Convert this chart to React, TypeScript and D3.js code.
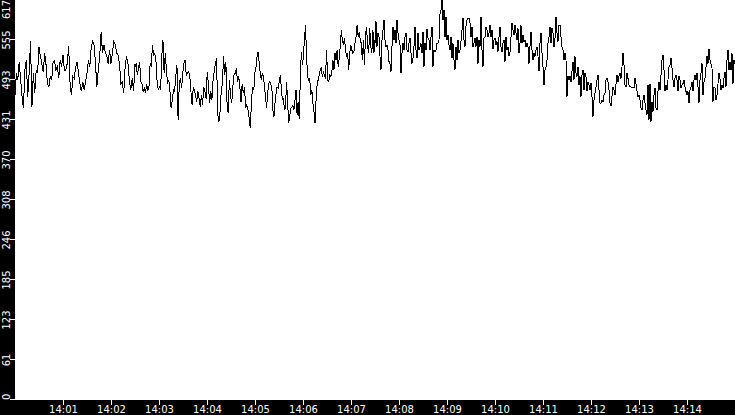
import { useEffect, useRef } from "react";
import * as d3 from "d3";

// readings, one array per 2.5 minute stretch (14:00 - 14:15)
const seg1 = [470, 504, 494, 522, 494, 468, 450, 509, 524, 468, 504, 553, 452, 504, 473, 509, 504, 545, 530, 519, 506, 535, 517, 488, 483, 499, 494, 522, 524, 509, 514, 496, 524, 514, 532, 509, 509, 519, 546, 488, 470, 499, 496, 514, 522, 504, 488, 476, 491, 478, 491, 504, 524, 514, 545, 553, 548, 519, 483, 509, 530, 568, 535, 548, 535, 532, 519, 540, 519, 535, 553, 548, 535, 532, 519, 488, 491, 473, 514, 530, 519, 494, 478, 496, 476, 519];
const seg2 = [514, 519, 501, 512, 522, 491, 488, 476, 481, 473, 488, 478, 483, 519, 514, 548, 530, 535, 522, 491, 478, 483, 478, 530, 555, 504, 535, 509, 488, 494, 476, 450, 463, 478, 476, 499, 517, 432, 488, 496, 481, 504, 519, 524, 501, 504, 506, 501, 476, 455, 483, 478, 470, 460, 476, 465, 452, 470, 455, 483, 476, 465, 506, 488, 458, 476, 463, 494, 506, 519, 527, 442, 429, 445, 476, 488, 530, 501, 522, 458, 442, 494, 470, 458, 483, 501, 504, 512, 491, 499, 483, 460, 488, 473, 483, 450, 455, 447, 434, 419, 463, 483, 478, 506];
const seg3 = [506, 514, 530, 537, 519, 504, 494, 504, 499, 483, 468, 450, 473, 488, 491, 486, 483, 447, 437, 458, 473, 483, 481, 491, 501, 481, 463, 465, 447, 452, 491, 460, 427, 437, 450, 452, 455, 447, 463, 478, 440, 460, 434, 491, 537, 517, 530, 558, 578, 530, 499, 494, 496, 470, 478, 458, 445, 427, 463, 486, 494, 501, 509, 512, 499, 506, 501, 496, 540, 494, 491, 501, 499, 506, 524, 509, 535, 524, 540, 514, 527, 545, 571, 555, 548, 558, 540, 530, 535, 509, 535, 548, 540, 535, 537, 550, 560, 578, 560, 568, 555, 550, 524, 555, 517, 563, 576, 545, 535, 573, 545, 535, 571, 535, 555];
const seg4 = [550, 584, 545, 566, 560, 530, 509, 555, 571, 586, 555, 545, 548, 540, 522, 519, 506, 545, 576, 555, 571, 550, 586, 566, 555, 548, 504, 535, 550, 540, 560, 566, 540, 537, 550, 558, 535, 519, 527, 545, 576, 540, 527, 566, 540, 545, 550, 535, 568, 514, 550, 540, 573, 558, 555, 540, 560, 576, 514, 540, 537, 540, 550, 550, 555, 596, 602, 617, 586, 602, 560, 591, 555, 563, 548, 540, 560, 527, 550, 524, 509, 545, 524, 555, 535, 540, 553, 571, 589, 555, 545, 576, 586, 589, 589, 581, 560, 576, 545, 550, 558, 545, 560, 519, 555, 545, 591, 540, 514, 558, 560, 576, 571, 560, 566, 578, 560, 571, 542, 555, 558];
const seg5 = [550, 548, 553, 537, 560, 576, 545, 537, 550, 555, 522, 560, 540, 545, 530, 537, 560, 581, 571, 563, 578, 566, 555, 573, 535, 550, 578, 550, 563, 553, 555, 545, 550, 545, 519, 545, 568, 540, 524, 535, 530, 540, 545, 530, 507, 550, 566, 535, 514, 486, 509, 514, 524, 550, 560, 576, 550, 573, 566, 545, 558, 591, 566, 553, 578, 578, 560, 545, 540, 524, 535, 524, 468, 499, 494, 499, 491, 507, 522, 494, 530, 504, 499, 514, 486, 499, 468, 501, 509, 478, 504, 499, 476, 491, 486, 478, 489, 468, 437, 463, 473, 483, 494, 501, 478, 458, 458, 463, 460, 471, 473, 494, 496, 491, 478, 458, 453, 468, 483, 478, 471];
const seg6 = [473, 488, 501, 491, 499, 504, 496, 514, 535, 517, 486, 483, 504, 496, 486, 483, 483, 481, 483, 481, 496, 488, 476, 468, 470, 463, 450, 447, 463, 470, 458, 447, 440, 486, 432, 488, 429, 460, 445, 470, 481, 450, 447, 476, 491, 478, 501, 524, 532, 509, 476, 486, 478, 494, 514, 517, 527, 512, 494, 483, 496, 501, 494, 476, 499, 494, 481, 486, 488, 494, 483, 476, 470, 476, 458, 478, 483, 491, 476, 494, 501, 494, 504, 483, 458, 494, 504, 519, 470, 491, 496, 514, 530, 519, 542, 524, 519, 512, 460, 483, 481, 463, 470, 488, 504, 496, 478, 486, 481, 496, 506, 483, 524, 540, 509, 522, 509, 535, 488, 524, 519];
const segments = [seg1, seg2, seg3, seg4, seg5, seg6];

const yTickValues = [0, 61.7, 123.4, 185.1, 246.8, 308.5, 370.2, 431.9, 493.6, 555.3, 617];
const yTickLabels = ["0", "61", "123", "185", "246", "308", "370", "431", "493", "555", "617"];
const xTickMinutes = [1, 2, 3, 4, 5, 6, 7, 8, 9, 10, 11, 12, 13, 14];

const W = 735;
const H = 415;
const left = 15;
const bottom = 15;

export default function App() {
  const ref = useRef<SVGSVGElement>(null);

  useEffect(() => {
    const svg = d3.select(ref.current);
    svg.selectAll("*").remove();

    const t0 = new Date(2024, 0, 1, 14, 0, 0);
    const t1 = new Date(2024, 0, 1, 14, 15, 0);
    const segMs = 2.5 * 60 * 1000;

    const data: [Date, number][] = [];
    segments.forEach((seg, s) => {
      seg.forEach((v, i) => {
        data.push([new Date(t0.getTime() + s * segMs + (i / (seg.length - 1)) * segMs), v]);
      });
    });

    const x = d3.scaleTime().domain([t0, t1]).range([left, W]);
    const y = d3.scaleLinear().domain([0, 617]).range([H - bottom, 0]);

    // frame strips
    svg.append("rect").attr("x", 0).attr("y", 0).attr("width", W).attr("height", H).attr("fill", "#000");
    svg
      .append("rect")
      .attr("x", left)
      .attr("y", 0)
      .attr("width", W - left)
      .attr("height", H - bottom)
      .attr("fill", "#fff");

    // y ticks
    yTickValues.forEach((v, i) => {
      const py = Math.round(y(v)) - 0.5;
      svg
        .append("line")
        .attr("x1", 10)
        .attr("x2", left)
        .attr("y1", py)
        .attr("y2", py)
        .attr("stroke", "#fff")
        .attr("shape-rendering", "crispEdges");
      const label = svg
        .append("text")
        .attr("fill", "#fff")
        .attr("font-family", "DejaVu Sans")
        .attr("font-size", 10)
        .attr("text-anchor", "middle")
        .text(yTickLabels[i]);
      const half = (label.node() as SVGTextElement).getComputedTextLength() / 2;
      const cy = Math.max(half, Math.min(H - bottom - half, y(v)));
      label.attr("transform", `translate(10,${cy}) rotate(-90)`);
    });

    // x ticks
    xTickMinutes.forEach((m) => {
      const t = new Date(2024, 0, 1, 14, m, 0);
      const px = Math.round(x(t)) + 0.5;
      svg
        .append("line")
        .attr("x1", px)
        .attr("x2", px)
        .attr("y1", H - bottom)
        .attr("y2", H - bottom + 5)
        .attr("stroke", "#fff")
        .attr("shape-rendering", "crispEdges");
      svg
        .append("text")
        .attr("x", px)
        .attr("y", H - 2)
        .attr("fill", "#fff")
        .attr("font-family", "DejaVu Sans")
        .attr("font-size", 10)
        .attr("text-anchor", "middle")
        .text(d3.timeFormat("%H:%M")(t));
    });

    const line = d3
      .line<[Date, number]>()
      .x((d) => x(d[0]))
      .y((d) => y(d[1]));

    svg
      .append("path")
      .datum(data)
      .attr("d", line)
      .attr("fill", "none")
      .attr("stroke", "#000")
      .attr("stroke-width", 1)
      .attr("shape-rendering", "crispEdges");
  });

  return (
    <svg
      ref={ref}
      width={W}
      height={H}
      style={{ position: "absolute", left: 0, top: 0, display: "block" }}
    ></svg>
  );
}
